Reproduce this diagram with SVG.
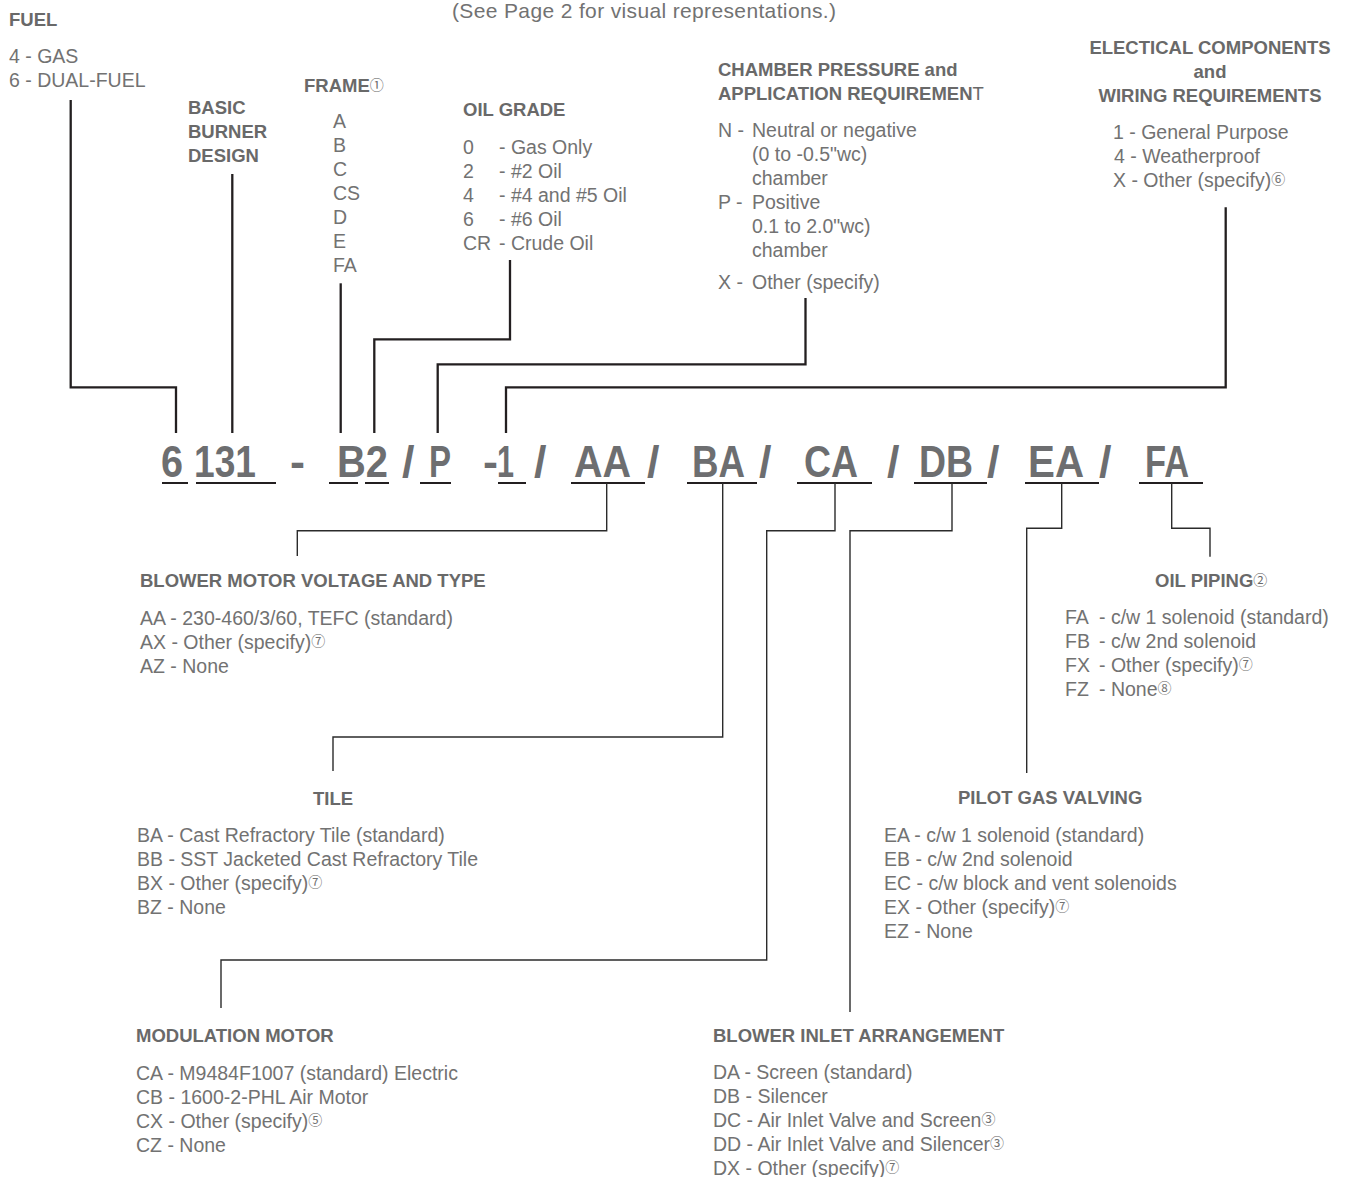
<svg xmlns="http://www.w3.org/2000/svg" width="1347" height="1177" viewBox="0 0 1347 1177">
<style>
text{font-family:"Liberation Sans","Noto Sans CJK JP",sans-serif}
.h{font-weight:bold;font-size:18.5px;fill:#696969}
.t{font-size:19.5px;fill:#727272}
.code{font-weight:bold;font-size:45px;fill:#6d6e70}
.c{font-family:"Noto Sans CJK JP","DejaVu Sans",sans-serif;font-weight:normal;font-size:14px}
.ln{stroke:#231f20;stroke-width:2.3;fill:none}
.ln2{stroke:#2b2b2b;stroke-width:1.4;fill:none}
.ul{stroke:#231f20;stroke-width:2.2}
</style>
<rect width="1347" height="1177" fill="#fff"/>

<g id="note"><text class="t" x="452" y="18" style="font-size:21px" textLength="384" lengthAdjust="spacing">(See Page 2 for visual representations.)</text></g>

<g id="fuel">
<text class="h" x="9" y="26">FUEL</text>
<text class="t" x="9" y="63">4 - GAS</text>
<text class="t" x="9" y="87">6 - DUAL-FUEL</text>
</g>

<g id="basic-burner-design">
<text class="h" x="188" y="114">BASIC</text>
<text class="h" x="188" y="138">BURNER</text>
<text class="h" x="188" y="162">DESIGN</text>
</g>

<g id="frame">
<text class="h" x="304" y="92">FRAME<tspan class="c" dy="-2">①</tspan></text>
<text class="t" x="333" y="128">A</text>
<text class="t" x="333" y="152">B</text>
<text class="t" x="333" y="176">C</text>
<text class="t" x="333" y="200">CS</text>
<text class="t" x="333" y="224">D</text>
<text class="t" x="333" y="248">E</text>
<text class="t" x="333" y="272">FA</text>
</g>

<g id="oil-grade">
<text class="h" x="463" y="116">OIL GRADE</text>
<text class="t" x="463" y="154">0</text><text class="t" x="499" y="154">- Gas Only</text>
<text class="t" x="463" y="178">2</text><text class="t" x="499" y="178">- #2 Oil</text>
<text class="t" x="463" y="202">4</text><text class="t" x="499" y="202">- #4 and #5 Oil</text>
<text class="t" x="463" y="226">6</text><text class="t" x="499" y="226">- #6 Oil</text>
<text class="t" x="463" y="250">CR</text><text class="t" x="499" y="250">- Crude Oil</text>
</g>

<g id="chamber-pressure">
<text class="h" x="718" y="76">CHAMBER PRESSURE and</text>
<text class="h" x="718" y="100">APPLICATION REQUIREMEN<tspan font-weight="normal">T</tspan></text>
<text class="t" x="718" y="137">N -</text><text class="t" x="752" y="137">Neutral or negative</text>
<text class="t" x="752" y="161">(0 to -0.5"wc)</text>
<text class="t" x="752" y="185">chamber</text>
<text class="t" x="718" y="209">P -</text><text class="t" x="752" y="209">Positive</text>
<text class="t" x="752" y="233">0.1 to 2.0"wc)</text>
<text class="t" x="752" y="257">chamber</text>
<text class="t" x="718" y="289">X -</text><text class="t" x="752" y="289">Other (specify)</text>
</g>

<g id="electrical">
<text class="h" x="1210" y="54" text-anchor="middle">ELECTICAL COMPONENTS</text>
<text class="h" x="1210" y="78" text-anchor="middle">and</text>
<text class="h" x="1210" y="102" text-anchor="middle">WIRING REQUIREMENTS</text>
<text class="t" x="1113" y="139">1 - General Purpose</text>
<text class="t" x="1114" y="163">4 - Weatherproof</text>
<text class="t" x="1113" y="187">X - Other (specify)<tspan class="c" dy="-3">⑥</tspan></text>
</g>

<g id="code">
<text class="code" x="161" y="477" textLength="22" lengthAdjust="spacingAndGlyphs">6</text>
<text class="code" x="194" y="477" textLength="62" lengthAdjust="spacingAndGlyphs">131</text>
<text class="code" x="290" y="477">-</text>
<text class="code" x="337" y="477" textLength="51" lengthAdjust="spacingAndGlyphs">B2</text>
<text class="code" x="402" y="477">/</text>
<text class="code" x="429" y="477" textLength="22" lengthAdjust="spacingAndGlyphs">P</text>
<text class="code" x="483" y="477">-</text>
<text class="code" x="497" y="477" textLength="17" lengthAdjust="spacingAndGlyphs">1</text>
<text class="code" x="534" y="477">/</text>
<text class="code" x="574" y="477" textLength="57" lengthAdjust="spacingAndGlyphs">AA</text>
<text class="code" x="647" y="477">/</text>
<text class="code" x="692" y="477" textLength="53" lengthAdjust="spacingAndGlyphs">BA</text>
<text class="code" x="759" y="477">/</text>
<text class="code" x="804" y="477" textLength="54" lengthAdjust="spacingAndGlyphs">CA</text>
<text class="code" x="887" y="477">/</text>
<text class="code" x="919" y="477" textLength="54" lengthAdjust="spacingAndGlyphs">DB</text>
<text class="code" x="987" y="477">/</text>
<text class="code" x="1028" y="477" textLength="56" lengthAdjust="spacingAndGlyphs">EA</text>
<text class="code" x="1099" y="477">/</text>
<text class="code" x="1145" y="477" textLength="44" lengthAdjust="spacingAndGlyphs">FA</text>
<path class="ul" d="M162 483H188M196 483H276M329 483H358M365 483H389M420 483H451M498 483H526M571 483H645M687 483H757M797 483H872M914 483H987M1025 483H1099M1139 483H1203"/>
</g>

<g id="blower-motor">
<text class="h" x="140" y="587">BLOWER MOTOR VOLTAGE AND TYPE</text>
<text class="t" x="140" y="625">AA - 230-460/3/60, TEFC (standard)</text>
<text class="t" x="140" y="649">AX - Other (specify)<tspan class="c" dy="-3">⑦</tspan></text>
<text class="t" x="140" y="673">AZ - None</text>
</g>

<g id="tile">
<text class="h" x="333" y="805" text-anchor="middle">TILE</text>
<text class="t" x="137" y="842">BA - Cast Refractory Tile (standard)</text>
<text class="t" x="137" y="866">BB - SST Jacketed Cast Refractory Tile</text>
<text class="t" x="137" y="890">BX - Other (specify)<tspan class="c" dy="-3">⑦</tspan></text>
<text class="t" x="137" y="914">BZ - None</text>
</g>

<g id="modulation-motor">
<text class="h" x="136" y="1042">MODULATION MOTOR</text>
<text class="t" x="136" y="1080">CA - M9484F1007 (standard) Electric</text>
<text class="t" x="136" y="1104">CB - 1600-2-PHL Air Motor</text>
<text class="t" x="136" y="1128">CX - Other (specify)<tspan class="c" dy="-3">⑤</tspan></text>
<text class="t" x="136" y="1152">CZ - None</text>
</g>

<g id="blower-inlet">
<text class="h" x="713" y="1042">BLOWER INLET ARRANGEMENT</text>
<text class="t" x="713" y="1079">DA - Screen (standard)</text>
<text class="t" x="713" y="1103">DB - Silencer</text>
<text class="t" x="713" y="1127">DC - Air Inlet Valve and Screen<tspan class="c" dy="-3">③</tspan></text>
<text class="t" x="713" y="1151">DD - Air Inlet Valve and Silencer<tspan class="c" dy="-3">③</tspan></text>
<text class="t" x="713" y="1175">DX - Other (specify)<tspan class="c" dy="-3">⑦</tspan></text>
</g>

<g id="pilot-gas">
<text class="h" x="958" y="804">PILOT GAS VALVING</text>
<text class="t" x="884" y="842">EA - c/w 1 solenoid (standard)</text>
<text class="t" x="884" y="866">EB - c/w 2nd solenoid</text>
<text class="t" x="884" y="890">EC - c/w block and vent solenoids</text>
<text class="t" x="884" y="914">EX - Other (specify)<tspan class="c" dy="-3">⑦</tspan></text>
<text class="t" x="884" y="938">EZ - None</text>
</g>

<g id="oil-piping">
<text class="h" x="1155" y="587">OIL PIPING<tspan class="c" dy="-2">②</tspan></text>
<text class="t" x="1065" y="624">FA</text><text class="t" x="1099" y="624">- c/w 1 solenoid (standard)</text>
<text class="t" x="1065" y="648">FB</text><text class="t" x="1099" y="648">- c/w 2nd solenoid</text>
<text class="t" x="1065" y="672">FX</text><text class="t" x="1099" y="672">- Other (specify)<tspan class="c" dy="-3">⑦</tspan></text>
<text class="t" x="1065" y="696">FZ</text><text class="t" x="1099" y="696">- None<tspan class="c" dy="-3">⑧</tspan></text>
</g>

<g id="connectors">
<path class="ln" d="M70.7 100V387.3H176V433"/>
<path class="ln" d="M232.3 174V433"/>
<path class="ln" d="M340.7 283.3V433"/>
<path class="ln" d="M510 260V339.3H374.3V433"/>
<path class="ln" d="M805.5 298V364.3H437.7V433"/>
<path class="ln" d="M1225.7 207.3V387.3H506V433"/>
<path class="ln2" d="M606.7 483V530.7H297.3V556"/>
<path class="ln2" d="M722.7 483V737H333V771"/>
<path class="ln2" d="M835 483V530.7H766.7V960H221V1008"/>
<path class="ln2" d="M952 483V530.7H850V1012"/>
<path class="ln2" d="M1061.7 483V528.3H1026.7V773"/>
<path class="ln2" d="M1171.7 483V528.3H1210V556.7"/>
</g>
</svg>
